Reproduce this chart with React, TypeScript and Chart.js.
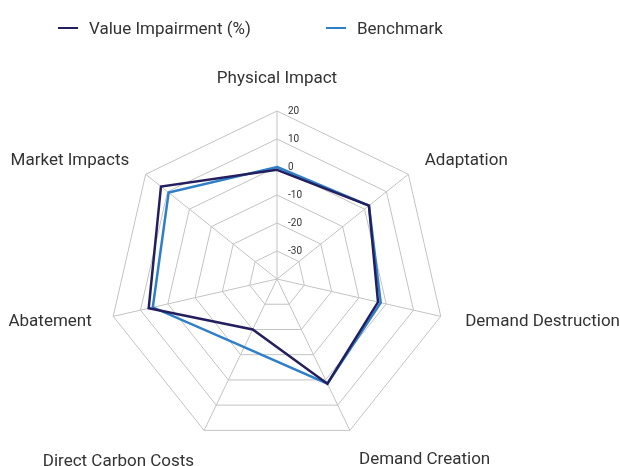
import React, { useEffect, useRef } from "react";
import { Chart, registerables } from "chart.js";

Chart.register(...registerables);

const categories = [
  "Physical Impact",
  "Adaptation",
  "Demand Destruction",
  "Demand Creation",
  "Direct Carbon Costs",
  "Abatement",
  "Market Impacts",
];
const valueImpairment = [-1, 2, -3, 1.5, -20, 7, 13];
const benchmark = [0, 2, -2, 1.5, -13, 5.5, 9.5];
const tickValues = [-30, -20, -10, 0, 10, 20];
const seriesNames = ["Value Impairment (%)", "Benchmark"];
const seriesColors = ["#231f5f", "#2f7fc8"];

const FONT = "Roboto, 'Noto Sans', sans-serif";

// layout of the radar (centre and outer radius, px) and label gaps
const CENTER_X = 277;
const CENTER_Y = 279;
const RADIUS = 168;
const LABEL_GAPS = [22, 21, 25, 21, 23, 22, 21];

function placeScale(scale: any) {
  scale.xCenter = CENTER_X;
  scale.yCenter = CENTER_Y;
  scale.drawingArea = RADIUS;
  const items = scale._pointLabelItems || [];
  items.forEach((item: any, i: number) => {
    const w = item.right - item.left;
    const h = item.bottom - item.top;
    const pos = scale.getPointPosition(i, RADIUS + LABEL_GAPS[i]);
    let y: number;
    if (i === 0) y = pos.y - h;
    else if (i === 3 || i === 4) y = pos.y;
    else y = pos.y - h / 2;
    let left: number;
    if (item.textAlign === "left") left = pos.x;
    else if (item.textAlign === "right") left = pos.x - w;
    else left = pos.x - w / 2;
    item.x = pos.x;
    item.y = y;
    item.top = y;
    item.bottom = y + h;
    item.left = left;
    item.right = left + w;
    item.visible = true;
  });
}

const tickLabelPlugin = {
  id: "tickLabels",
  beforeDatasetsDraw(chart: any) {
    const s = chart.scales.r;
    const ctx = chart.ctx;
    ctx.save();
    ctx.font = `10px ${FONT}`;
    ctx.fillStyle = "#333333";
    ctx.textAlign = "left";
    ctx.textBaseline = "middle";
    for (const v of tickValues) {
      const d = s.getDistanceFromCenterForValue(v);
      ctx.fillText(String(v), s.xCenter + 11, s.yCenter - d);
    }
    ctx.restore();
  },
};

export default function App() {
  const ref = useRef<HTMLCanvasElement | null>(null);
  useEffect(() => {
    if (!ref.current) return;
    const chart = new Chart(ref.current, {
      type: "radar",
      data: {
        labels: categories,
        datasets: [
          {
            label: seriesNames[0],
            data: valueImpairment,
            borderColor: seriesColors[0],
            backgroundColor: "transparent",
            borderWidth: 2.5,
            pointRadius: 0,
            fill: false,
          },
          {
            label: seriesNames[1],
            data: benchmark,
            borderColor: seriesColors[1],
            backgroundColor: "transparent",
            borderWidth: 2.5,
            pointRadius: 0,
            fill: false,
          },
        ],
      },
      options: {
        responsive: false,
        animation: false,
        layout: { padding: { top: 50, left: 0, right: 0, bottom: 0 } },
        plugins: { legend: { display: false }, tooltip: { enabled: false } },
        scales: {
          r: {
            min: -40,
            max: 20,
            ticks: { display: false, stepSize: 10 },
            grid: { color: "#c3c3c3", lineWidth: 1 },
            angleLines: { color: "#c3c3c3", lineWidth: 1 },
            pointLabels: {
              font: { family: FONT, size: 17 },
              color: "#333333",
              padding: 22,
            },
            afterFit: placeScale,
          } as any,
        },
      },
      plugins: [tickLabelPlugin],
    });
    return () => chart.destroy();
  }, []);

  const legendItem = (i: number, left: number) => (
    <div
      key={i}
      style={{
        position: "absolute",
        left,
        top: 17,
        height: 22,
        display: "flex",
        alignItems: "center",
        fontFamily: FONT,
        fontSize: 17,
        color: "#333333",
        whiteSpace: "nowrap",
      }}
    >
      <span
        style={{
          display: "inline-block",
          width: 20,
          height: 2.5,
          background: seriesColors[i],
          marginRight: 11,
        }}
      />
      <span>{seriesNames[i]}</span>
    </div>
  );

  return (
    <div
      style={{
        position: "fixed",
        left: 0,
        top: 0,
        width: 620,
        height: 466,
        background: "#ffffff",
        overflow: "hidden",
      }}
    >
      <canvas ref={ref} width={620} height={466} style={{ position: "absolute", left: 0, top: 0 }} />
      {legendItem(0, 58)}
      {legendItem(1, 326)}
    </div>
  );
}
